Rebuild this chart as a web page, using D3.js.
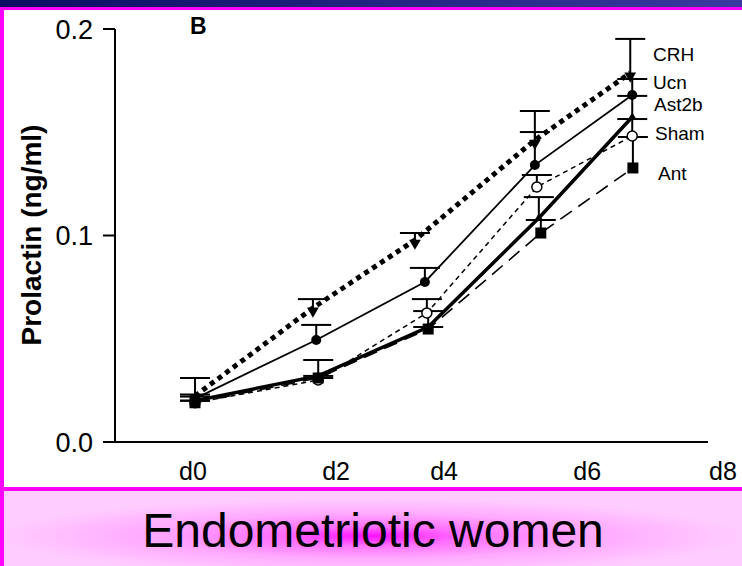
<!DOCTYPE html>
<html><head><meta charset="utf-8">
<script src="https://cdn.jsdelivr.net/npm/d3@7"></script>
<style>html,body{margin:0;padding:0;background:#fff;}svg{display:block;font-family:"Liberation Sans",Arial,sans-serif;}</style>
</head><body>
<script>
// ---- data ----
const tickLabels = ["d0", "d2", "d4", "d6", "d8"];
const tickDays = [0, 2.16, 3.79, 5.95, 8];
const yTicks = [0.0, 0.1, 0.2];
const seriesNames = ["CRH", "Ucn", "Ast2b", "Sham", "Ant"];
const crhDays = [0.03, 1.81, 3.35, 5.16, 6.60];
const crhVals = [0.0223, 0.0649, 0.0978, 0.1462, 0.1787];
const crhErr = [0.0087, 0.0043, 0.0034, 0.0141, 0.0165];
const ucnDays = [0.03, 1.86, 3.50, 5.16, 6.63];
const ucnVals = [0.0210, 0.0494, 0.0775, 0.1341, 0.1680];
const ucnErr = [0.0020, 0.0073, 0.0068, 0.0160, 0.0078];
const ast2bDays = [0.03, 1.89, 3.55, 5.22, 6.63];
const ast2bVals = [0.0200, 0.0320, 0.0557, 0.1085, 0.1574];
const ast2bErr = [0.0020, 0.0077, 0.0077, 0.0101, 0.0102];
const shamDays = [0.03, 1.89, 3.53, 5.19, 6.63];
const shamVals = [0.0190, 0.0300, 0.0625, 0.1235, 0.1482];
const shamErr = [0.0010, 0.0010, 0.0067, 0.0058, 0.0082];
const antDays = [0.03, 1.89, 3.55, 5.25, 6.64];
const antVals = [0.0190, 0.0310, 0.0547, 0.1012, 0.1327];
const antErr = [0.0010, 0.0010, 0.0010, 0.0063, 0.0150];
const yTitle = "Prolactin (ng/ml)";
const panelLabel = "B";
const caption = "Endometriotic women";

// ---- build ----
const W = 742, H = 566;
const svg = d3.select("body").append("svg").attr("width", W).attr("height", H);
const defs = svg.append("defs");
const lg = defs.append("linearGradient").attr("id", "topg");
lg.append("stop").attr("offset", "0%").attr("stop-color", "#0c0c62");
lg.append("stop").attr("offset", "100%").attr("stop-color", "#3a3aa0");
const rg = defs.append("radialGradient").attr("id", "pinkg").attr("cx", "0.5").attr("cy", "0.6").attr("r", "0.5");
rg.append("stop").attr("offset", "0%").attr("stop-color", "#ff10ff");
rg.append("stop").attr("offset", "25%").attr("stop-color", "#ff70ff");
rg.append("stop").attr("offset", "60%").attr("stop-color", "#ffaaff");
rg.append("stop").attr("offset", "100%").attr("stop-color", "#ffccff");

svg.append("rect").attr("x", 0).attr("y", 0).attr("width", W).attr("height", 7).attr("fill", "url(#topg)");
svg.append("rect").attr("x", 0).attr("y", 7).attr("width", W).attr("height", 3).attr("fill", "#ff00ff");
svg.append("rect").attr("x", 0).attr("y", 491).attr("width", W).attr("height", H - 491).attr("fill", "url(#pinkg)");
svg.append("rect").attr("x", 0).attr("y", 487).attr("width", W).attr("height", 4).attr("fill", "#ff00ff");
svg.append("rect").attr("x", 0).attr("y", 7).attr("width", 4).attr("height", H - 7).attr("fill", "#ff00ff");

const x = d3.scaleLinear().domain([0, 8]).range([193, 723]);
const y = d3.scaleLinear().domain([0, 0.2]).range([442, 29]);

// axes
const g = svg.append("g");
g.append("line").attr("x1", 115).attr("x2", 115).attr("y1", y(0.2)).attr("y2", y(0)).attr("stroke", "#000").attr("stroke-width", 2);
g.append("line").attr("x1", 115).attr("x2", 708).attr("y1", y(0)).attr("y2", y(0)).attr("stroke", "#000").attr("stroke-width", 2);
yTicks.forEach(t => {
  g.append("line").attr("x1", 103).attr("x2", 115).attr("y1", y(t)).attr("y2", y(t)).attr("stroke", "#000").attr("stroke-width", 2);
  g.append("text").attr("x", 93).attr("y", y(t)).attr("dy", "0.36em").attr("text-anchor", "end")
    .attr("font-size", 27).text(d3.format(".1f")(t));
});
tickLabels.forEach((l, i) => {
  g.append("text").attr("x", x(tickDays[i])).attr("y", 480).attr("text-anchor", "middle").attr("font-size", 25).text(l);
});
svg.append("text").attr("transform", "translate(41,235) rotate(-90)").attr("text-anchor", "middle")
  .attr("font-size", 28).attr("font-weight", "bold").text(yTitle);
svg.append("text").attr("x", 190).attr("y", 34).attr("font-size", 23).attr("font-weight", "bold").text(panelLabel);

const series = [
  {name: "CRH", days: crhDays, vals: crhVals, err: crhErr, w: 5, dash: "5 4.5", marker: "tri-down", ly: 61, lx: 653},
  {name: "Ucn", days: ucnDays, vals: ucnVals, err: ucnErr, w: 1.8, dash: null, marker: "circle", ly: 89, lx: 653},
  {name: "Ast2b", days: ast2bDays, vals: ast2bVals, err: ast2bErr, w: 3.5, dash: null, marker: "tri-up", ly: 111, lx: 654},
  {name: "Sham", days: shamDays, vals: shamVals, err: shamErr, w: 1.5, dash: "5 4", marker: "open", ly: 140, lx: 655},
  {name: "Ant", days: antDays, vals: antVals, err: antErr, w: 1.6, dash: "14 8", marker: "square", ly: 180, lx: 658}
];

const line = d3.line().x(d => x(d[0])).y(d => y(d[1]));
series.forEach(s => {
  const pts = s.days.map((d, i) => [d, s.vals[i]]);
  const p = svg.append("path").attr("d", line(pts)).attr("fill", "none").attr("stroke", "#000").attr("stroke-width", s.w);
  if (s.dash) p.attr("stroke-dasharray", s.dash);
});
// error bars
series.forEach(s => {
  s.days.forEach((d, i) => {
    const cx = x(d), top = y(s.vals[i] + s.err[i]);
    svg.append("line").attr("x1", cx).attr("x2", cx).attr("y1", y(s.vals[i])).attr("y2", top).attr("stroke", "#000").attr("stroke-width", 2);
    svg.append("line").attr("x1", cx - 15).attr("x2", cx + 15).attr("y1", top).attr("y2", top).attr("stroke", "#000").attr("stroke-width", 2);
  });
});
// markers (Sham drawn first so others cover it)
const order = [3, 0, 1, 2, 4];
order.forEach(k => {
  const s = series[k];
  s.days.forEach((d, i) => {
    const cx = x(d), cy = y(s.vals[i]);
    if (s.marker === "circle") svg.append("circle").attr("cx", cx).attr("cy", cy).attr("r", 5).attr("fill", "#000");
    else if (s.marker === "open") svg.append("circle").attr("cx", cx).attr("cy", cy).attr("r", 5).attr("fill", "#fff").attr("stroke", "#000").attr("stroke-width", 1.5);
    else if (s.marker === "square") svg.append("rect").attr("x", cx - 5.5).attr("y", cy - 5.5).attr("width", 11).attr("height", 11).attr("fill", "#000");
    else if (s.marker === "tri-down") svg.append("path").attr("d", d3.symbol().type(d3.symbolTriangle).size(60)()).attr("transform", `translate(${cx},${cy + 3}) rotate(180)`).attr("fill", "#000");
    else if (s.marker === "tri-up") svg.append("path").attr("d", d3.symbol().type(d3.symbolTriangle).size(30)()).attr("transform", `translate(${cx},${cy})`).attr("fill", "#000");
  });
});
series.forEach(s => {
  svg.append("text").attr("x", s.lx).attr("y", s.ly).attr("font-size", 19).text(s.name);
});

svg.append("text").attr("x", 373).attr("y", 547).attr("text-anchor", "middle").attr("font-size", 48).text(caption);
</script>
</body></html>
